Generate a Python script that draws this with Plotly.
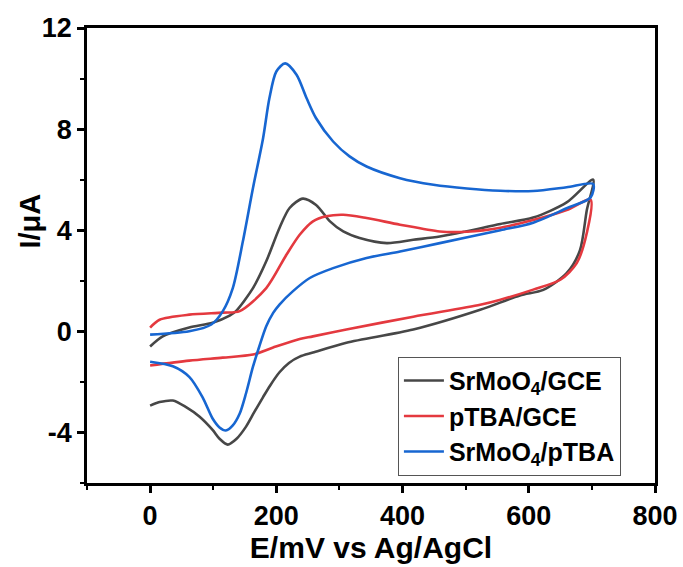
import plotly.graph_objects as go

# Cyclic voltammograms: forward sweep 0 -> 700 mV, then reverse 700 -> 0 mV
srmoo4_gce_E = [0, 20, 62, 99, 126, 136, 163, 184, 205, 221, 242, 263, 285, 306, 332, 375,
                417, 459, 500, 555, 607, 660, 702,
                692, 681, 660, 623, 586, 523, 417, 311, 258, 237, 220, 205, 190, 179, 165, 152, 137, 123, 110, 99, 78, 57, 36, 15, 0]
srmoo4_gce_I = [-0.6, -0.2, 0.15, 0.34, 0.62, 0.8, 1.71, 2.77, 4.09, 4.88, 5.25, 5.0, 4.35, 3.95, 3.69, 3.49,
                3.62, 3.75, 3.95, 4.25, 4.5, 5.1, 6.0,
                4.8, 3.2, 2.3, 1.64, 1.42, 0.85, 0.07, -0.45, -0.84, -1.0, -1.25, -1.62, -2.15, -2.6, -3.2, -3.77, -4.25, -4.48, -4.25, -3.9, -3.37, -3.0, -2.74, -2.8, -2.94]

ptba_gce_E = [0, 15, 62, 115, 142, 184, 216, 237, 258, 279, 306, 343, 396, 459, 502, 555, 607, 660, 698,
              692, 676, 650, 607, 555, 523, 417, 311, 258, 237, 194, 163, 115, 62, 0]
ptba_gce_I = [0.15, 0.46, 0.66, 0.74, 0.8, 1.71, 3.03, 3.82, 4.35, 4.55, 4.61, 4.48, 4.22, 3.95, 3.94, 4.1, 4.4, 4.8, 5.2,
              3.9, 2.7, 2.04, 1.65, 1.25, 1.05, 0.58, 0.07, -0.2, -0.3, -0.65, -0.92, -1.04, -1.16, -1.35]

srmoo4_ptba_E = [0, 62, 97, 115, 131, 147, 163, 179, 189, 200, 214, 232, 248, 263, 290, 316, 343, 396, 449, 502, 555, 607, 660, 702,
                 698, 660, 607, 555, 459, 396, 343, 290, 253, 226, 205, 195, 184, 173, 163, 152, 142, 131, 120, 110, 99, 83, 62, 36, 0]
srmoo4_ptba_I = [-0.13, 0.0, 0.27, 0.79, 1.71, 3.56, 5.67, 7.64, 9.22, 10.28, 10.6, 10.15, 9.22, 8.43, 7.51, 6.92, 6.52, 6.06, 5.8, 5.65, 5.56, 5.55, 5.7, 5.83,
                 5.3, 4.87, 4.3, 4.0, 3.49, 3.16, 2.9, 2.5, 2.11, 1.58, 1.06, 0.73, 0.2, -0.6, -1.4, -2.45, -3.25, -3.72, -3.92, -3.8, -3.45, -2.6, -1.8, -1.38, -1.2]

series = [
    ("SrMoO<sub>4</sub>/GCE", srmoo4_gce_E, srmoo4_gce_I, "#474747"),
    ("pTBA/GCE", ptba_gce_E, ptba_gce_I, "#e4393f"),
    ("SrMoO<sub>4</sub>/pTBA", srmoo4_ptba_E, srmoo4_ptba_I, "#1766d1"),
]

x_ticks = [0, 200, 400, 600, 800]
y_ticks = [-4, 0, 4, 8, 12]
y_ticktext = ["-4", "0", "4", "8", "12"]

FONT = "Arial, Liberation Sans, sans-serif"

fig = go.Figure()
for name, e, i, color in series:
    fig.add_trace(go.Scatter(x=e, y=i, mode="lines", name=name,
                             line=dict(color=color, width=2.6, shape="spline", smoothing=0.8)))

tick_font = dict(family=FONT, size=27, color="black", weight="bold")
common = dict(showline=True, linecolor="black", linewidth=2.5, mirror=True,
              ticks="outside", ticklen=7, tickwidth=2.5, tickcolor="black",
              showgrid=False, zeroline=False, tickfont=tick_font, automargin=False)

fig.update_xaxes(range=[-100, 800], tickvals=x_ticks,
                 minor=dict(ticks="outside", ticklen=4, tickwidth=2, tickcolor="black", dtick=100),
                 title=dict(text="E/mV vs Ag/AgCl",
                            font=dict(family=FONT, size=30, weight="bold", color="black"), standoff=2),
                 **common)
fig.update_yaxes(range=[-6, 12], tickvals=y_ticks, ticktext=y_ticktext,
                 minor=dict(ticks="outside", ticklen=4, tickwidth=2, tickcolor="black", dtick=2),
                 **common)

# y-axis title placed slightly above the plot's vertical centre
fig.add_annotation(text="I/μA", textangle=-90, xref="paper", yref="paper",
                   x=-0.1, y=0.575, xanchor="center", yanchor="middle", showarrow=False,
                   font=dict(family=FONT, size=29, weight="bold", color="black"))

fig.update_layout(
    width=683, height=567,
    margin=dict(l=87, r=28, t=28, b=84),
    paper_bgcolor="white", plot_bgcolor="white",
    font=dict(family=FONT, color="black", size=25, weight="bold"),
    legend=dict(x=0.94, y=0.016, xanchor="right", yanchor="bottom",
                bordercolor="#555555", borderwidth=1, bgcolor="white",
                font=dict(family=FONT, size=25, weight="bold", color="black"),
                tracegroupgap=0, itemwidth=40),
    showlegend=True,
)

fig.write_html("out.html")
